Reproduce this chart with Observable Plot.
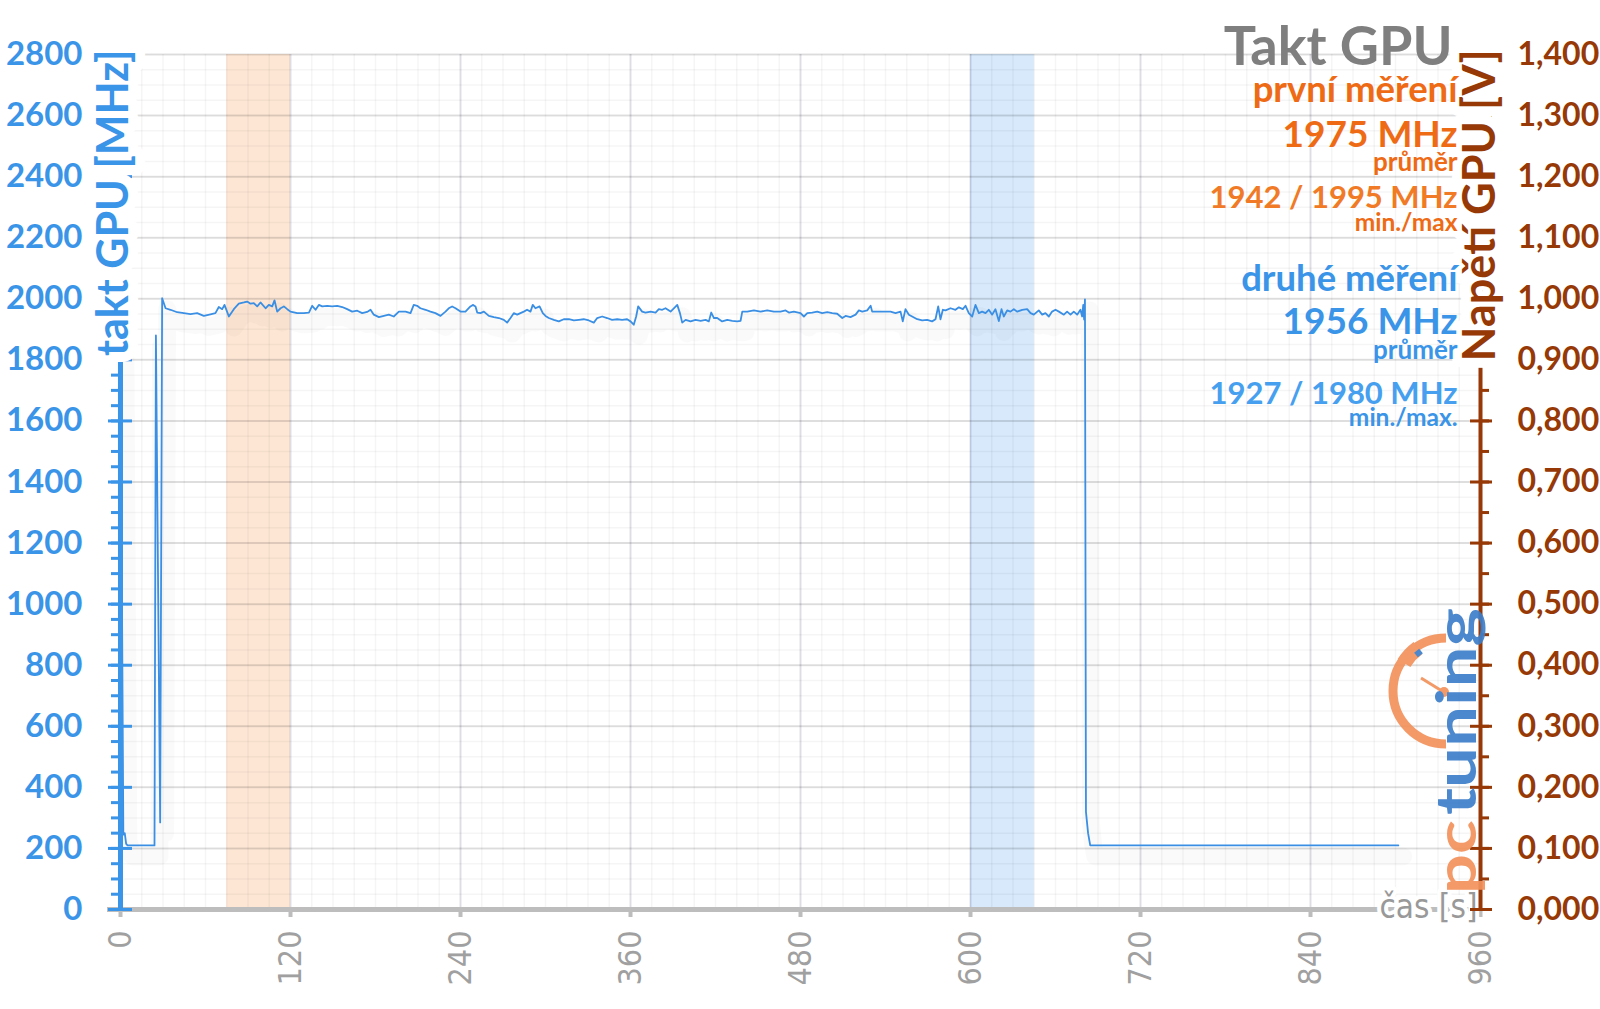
<!DOCTYPE html>
<html><head><meta charset="utf-8">
<script src="https://cdn.jsdelivr.net/npm/d3@7"></script>
<script src="https://cdn.jsdelivr.net/npm/@observablehq/plot@0.6"></script>
<style>
html,body{margin:0;padding:0;background:#fff;}
#wrap{position:relative;width:1600px;height:1009px;overflow:hidden;background:#fff;}
#logo{position:absolute;left:0;top:0;pointer-events:none;}
</style></head><body><div id="wrap"></div>
<script>
// ---- data ----
const timeS = [0,2,3,4,5,24,25,28,29.4,31.8,35.3,40,44.7,49.4,54.1,58.8,63.5,67,69.4,71.8,73.4,76.5,80,83.5,87.1,89.4,91.8,94.1,96.5,98.8,102.4,104.7,107.1,108.7,110.6,113,115.3,117.7,120,124.7,129.4,133,135.3,137.7,140,142.4,145.9,149.4,153,156.5,160,163.5,167.1,170.6,174.1,176.5,178.8,182.4,185.9,189.4,192.9,196.5,
201.2,204.7,207,209.4,211.7,215.3,218.8,222.3,225.9,229.4,231.7,234.1,236.5,240,243.5,247,248.7,250.6,251.8,254.1,256.5,260,263.5,267.1,270.6,272.9,275.3,277.6,280,282.3,284.7,287,289.4,291,292.9,295.8,298.1,300,302.3,305.9,309.4,312.9,316.5,320,323.5,327,330.6,334.1,336.5,340,343.5,347,350.6,354.1,357.6,360,362.3,364,365.4,368.2,
370.6,374.2,377.7,380,382.4,384.7,388.3,390.6,393,394.9,396.5,398.9,402.4,405.9,409.5,413,415.3,417,418.9,421.2,424.7,428.3,431.8,435.3,437.7,438.9,442.4,447.1,451.8,456.5,461.2,465.9,469.5,471.8,475.3,480,482.4,484.8,488.3,491.8,495.3,498.9,502.4,505.9,509.5,511.8,515.3,518.9,521.2,523.6,527.1,529.5,530.6,534.2,538.9,
543.5,547.1,550.6,552.2,554.1,556.5,558.8,562.4,565.9,569.4,572.9,575.3,577.2,578.8,580.5,582.4,585.9,589.4,591.8,594.6,596.5,598.8,601.2,603.5,605.9,608.2,610.6,612.9,615.3,617.6,620,621.9,623.5,625.9,628.2,630.6,632.9,636.5,640,642.4,644.7,648.2,650.6,652.9,655.3,657.6,660,662.4,665.9,668.2,670.6,672.9,675.3,677.6,678.8,679.6,680.2,680.8,681.5,683,684.5,902];
const clockMHz = [1840,245,250,215,210,210,1880,285,2002,1969,1964,1956,1953,1950,1953,1944,1949,1953,1973,1966,1980,1942,1966,1984,1988,1991,1984,1986,1975,1988,1969,1980,1975,1995,1958,1969,1975,1966,1958,1953,1953,1955,1977,1964,1980,1975,1977,1975,1977,1973,1966,1958,1961,1953,1957,1964,1948,1940,1944,1948,1942,1958,
1958,1953,1980,1977,1969,1964,1958,1953,1944,1958,1969,1975,1969,1958,1958,1975,1980,1975,1955,1953,1958,1944,1940,1937,1931,1922,1937,1953,1948,1953,1958,1964,1958,1980,1969,1975,1953,1944,1937,1931,1926,1933,1933,1929,1931,1933,1929,1922,1937,1942,1937,1931,1933,1931,1933,1926,1915,1942,1975,1958,
1955,1958,1955,1966,1964,1969,1958,1969,1980,1953,1922,1931,1926,1931,1928,1931,1926,1955,1937,1937,1926,1931,1928,1926,1928,1958,1958,1962,1958,1962,1958,1958,1962,1955,1958,1953,1942,1953,1955,1958,1953,1956,1953,1951,1937,1944,1940,1948,1962,1958,1962,1977,1958,1958,1958,
1958,1953,1958,1926,1966,1948,1942,1933,1929,1931,1926,1933,1975,1933,1964,1962,1969,1964,1972,1966,1977,1953,1942,1980,1953,1958,1953,1964,1948,1966,1927,1966,1942,1962,1958,1966,1958,1964,1966,1953,1948,1962,1948,1953,1942,1958,1964,1958,1948,1958,1948,1958,1948,1964,1942,1980,1932,1998,320,250,210,210];

const xTicks = [0,120,240,360,480,600,720,840,960];
const yTicksMHz = [0,200,400,600,800,1000,1200,1400,1600,1800,2000,2200,2400,2600,2800];
const voltTicks = [0,0.1,0.2,0.3,0.4,0.5,0.6,0.7,0.8,0.9,1.0,1.1,1.2,1.3,1.4];
const bandFirst = {from: 75, to: 120};
const bandSecond = {from: 600, to: 645};
const chartTitle = "Takt GPU";
const firstRun = ["první měření", "1975 MHz", "průměr", "1942 / 1995 MHz", "min./max"];
const secondRun = ["druhé měření", "1956 MHz", "průměr", "1927 / 1980 MHz", "min./max."];
const yTitle = "takt GPU [MHz]";
const y2Title = "Napětí GPU [V]";
const xTitle = "čas [s]";

// ---- styles ----
const BLUE = "#3a94e8", LINE = "#3a8fe4", BROWN = "#963906", ORANGE = "#ee6a14", ORANGE2 = "#f07a25", GRAY = "#a0a0a0";
const NARROW = "'Liberation Sans Narrow','DejaVu Sans Condensed','Roboto Condensed',sans-serif";
const MHZ_PER_V = 2000;

const data = timeS.map((t, i) => ({t, mhz: clockMHz[i]}));
const minorY = d3.range(0, 2801, 50);
const minorX = d3.range(0, 961, 15);
const voltMHz = voltTicks.map(v => Math.round(v * MHZ_PER_V));
const voltMinor = d3.range(0, 2801, 100);

function blockLine(str, size, color, base) {
  return Plot.text([str], {text: d => d, frameAnchor: "top-right", textAnchor: "end", lineAnchor: "bottom",
    dx: -23, dy: base - 54, fontSize: size, fontWeight: 700, fill: color});
}
const sizes = [36.5, 37, 26, 31, 24.5];
const basesFirst = [101, 146, 170, 207, 230];
const basesSecond = [290, 333, 358, 403, 425];
const colorsFirst = [ORANGE, ORANGE, ORANGE, ORANGE2, ORANGE];
const colorsSecond = [BLUE, BLUE, BLUE, "#46a0ef", BLUE];

const plot = Plot.plot({
  width: 1600, height: 1009,
  marginLeft: 120, marginRight: 120, marginTop: 54, marginBottom: 100,
  x: {domain: [0, 960]},
  y: {domain: [0, 2800]},
  style: {fontFamily: "Lato, sans-serif", background: "#fff", overflow: "visible"},
  marks: [
    Plot.rect([bandFirst], {x1: "from", x2: "to", fill: "#fde3cf", fillOpacity: 0.9}),
    Plot.rect([bandSecond], {x1: "from", x2: "to", fill: "#d3e7fb", fillOpacity: 0.9}),
    Plot.gridX({ticks: minorX, stroke: "#000", strokeOpacity: 0.04, strokeWidth: 1.5}),
    Plot.gridY({ticks: minorY, stroke: "#000", strokeOpacity: 0.04, strokeWidth: 1.5}),
    Plot.gridX({ticks: xTicks, stroke: "#1a1a50", strokeOpacity: 0.11, strokeWidth: 2}),
    Plot.gridY({ticks: yTicksMHz, stroke: "#000", strokeOpacity: 0.1, strokeWidth: 2}),
    Plot.line(data, {x: "t", y: "mhz", stroke: "#000", strokeOpacity: 0.018, strokeWidth: 18, dx: 5, dy: 11}),
    Plot.line(data, {x: "t", y: "mhz", stroke: LINE, strokeWidth: 1.8}),
    // bottom axis
    Plot.ruleY([0], {stroke: "#bdbdbd", strokeWidth: 5, insetLeft: -13}),
    Plot.axisX({ticks: xTicks, tickSize: 8, tickPadding: 13, tickRotate: -90, stroke: "#bdbdbd", strokeWidth: 4,
      fill: GRAY, fontSize: 32, fontFamily: NARROW, label: null, tickFormat: d => String(d)}),
    Plot.text([xTitle], {text: d => d, frameAnchor: "bottom-right", textAnchor: "end", lineAnchor: "middle",
      dx: -3, dy: -2, fontSize: 33, fontFamily: NARROW, fill: "#999", stroke: "white", strokeWidth: 8}),
    // left axis
    Plot.ruleX([0], {stroke: BLUE, strokeWidth: 5}),
    Plot.axisY({ticks: minorY, tickSize: 9, stroke: BLUE, strokeWidth: 3, fill: "none", label: null}),
    Plot.axisY({ticks: yTicksMHz, tickSize: 24, dx: 12, stroke: BLUE, strokeWidth: 3, fill: "none", label: null}),
    Plot.axisY({ticks: yTicksMHz, tickSize: 0, tickPadding: 38, fill: BLUE, fontSize: 33, fontWeight: 700,
      label: null, tickFormat: d => String(d)}),
    Plot.text([yTitle], {text: d => d, frameAnchor: "top-left", rotate: -90, textAnchor: "end", lineAnchor: "middle",
      dx: -6, dy: -5, fontSize: 43, fontWeight: 700, fill: BLUE, stroke: "white", strokeWidth: 20, strokeLinejoin: "round"}),
    // right axis
    Plot.ruleX([960], {stroke: BROWN, strokeWidth: 4}),
    Plot.axisY({anchor: "right", ticks: voltMinor, tickSize: 8, stroke: BROWN, strokeWidth: 3, fill: "none", label: null}),
    Plot.axisY({anchor: "right", ticks: voltMHz, tickSize: 22, dx: -11, stroke: BROWN, strokeWidth: 3, fill: "none", label: null}),
    Plot.axisY({anchor: "right", ticks: voltMHz, tickSize: 0, tickPadding: 37, fill: BROWN, fontSize: 32, fontWeight: 700,
      label: null, tickFormat: d => (d / MHZ_PER_V).toFixed(3).replace(".", ",")}),
    Plot.text([y2Title], {text: d => d, frameAnchor: "top-right", rotate: -90, textAnchor: "end", lineAnchor: "middle",
      dx: 0, dy: -5, fontSize: 45, fontWeight: 700, fill: BROWN, stroke: "white", strokeWidth: 20, strokeLinejoin: "round"}),
    // text block
    Plot.text([chartTitle], {text: d => d, frameAnchor: "top-right", textAnchor: "end", lineAnchor: "bottom",
      dx: -28, dy: 10, fontSize: 54, fontWeight: 700, fill: "#7f7f7f"}),
    ...firstRun.map((s, i) => blockLine(s, sizes[i], colorsFirst[i], basesFirst[i])),
    ...secondRun.map((s, i) => blockLine(s, sizes[i], colorsSecond[i], basesSecond[i]))
  ]
});
const wrap = document.getElementById("wrap");
wrap.appendChild(plot);

// decorative pctuning logo overlay
const logo = `<svg id="logo" width="1600" height="1009" xmlns="http://www.w3.org/2000/svg" opacity="0.92">
  <path d="M 1446 638 A 53 53 0 0 0 1446 744" fill="none" stroke="#f2925c" stroke-width="9"/>
  <path d="M 1404 663 A 53 53 0 0 1 1418 648" fill="none" stroke="#f2925c" stroke-width="15"/>
  <line x1="1416" y1="655" x2="1421" y2="651" stroke="#3d7ec9" stroke-width="6"/>
  <line x1="1421" y1="678" x2="1442" y2="691" stroke="#f2925c" stroke-width="3"/>
  <circle cx="1444" cy="692" r="5" fill="#f2925c"/>
  <text transform="translate(1476,894) rotate(-90)" font-family="Lato, sans-serif" font-weight="700" font-size="56" fill="#f2925c" textLength="74" lengthAdjust="spacingAndGlyphs">pc</text>
  <text transform="translate(1476,815) rotate(-90)" font-family="Lato, sans-serif" font-weight="700" font-size="56" fill="#3d7ec9" textLength="207" lengthAdjust="spacingAndGlyphs">tuning</text>
</svg>`;
wrap.insertAdjacentHTML("beforeend", logo);
</script></body></html>
